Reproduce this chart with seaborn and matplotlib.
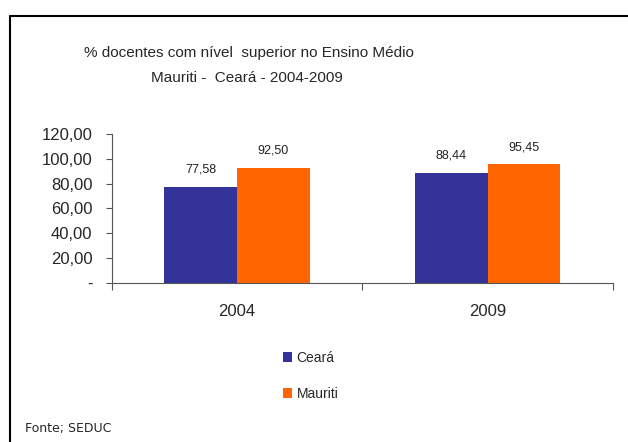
import pandas as pd
import seaborn as sns
import matplotlib.pyplot as plt
from matplotlib.lines import Line2D
from matplotlib.ticker import FuncFormatter, FixedLocator

# data
anos = ['2004', '2009']
ceara = [77.58, 88.44]
mauriti = [92.50, 95.45]
series = ['Ceará', 'Mauriti']
cores = ['#333399', '#FF6600']

sns.set_style('white')
plt.rcParams['font.family'] = ['Liberation Sans', 'DejaVu Sans']

df = pd.DataFrame({
    'Ano': anos * 2,
    'Serie': [series[0]] * len(anos) + [series[1]] * len(anos),
    'Valor': ceara + mauriti,
})

fig = plt.figure(figsize=(6.28, 4.42), dpi=100)
ax = fig.add_axes([0.178, 0.360, 0.798, 0.337])

sns.barplot(data=df, x='Ano', y='Valor', hue='Serie', palette=cores,
            width=0.58, saturation=1, linewidth=0, ax=ax)

for cont in ax.containers:
    ax.bar_label(cont, labels=[f'{b.get_height():.2f}'.replace('.', ',') for b in cont],
                 padding=8, fontsize=9, color='#222222')

ax.set_ylim(0, 120)
ax.set_xlim(-0.5, 1.5)
ax.set_yticks([0, 20, 40, 60, 80, 100, 120])
ax.yaxis.set_major_formatter(FuncFormatter(
    lambda v, p: '-' if v == 0 else f'{v:.2f}'.replace('.', ',')))
ax.tick_params(axis='y', labelsize=12, length=4, width=0.8, color='#555555', direction='out', left=True, pad=10)
ax.tick_params(axis='x', which='major', labelsize=12, length=0, pad=15)
ax.xaxis.set_minor_locator(FixedLocator([-0.5, 0.5, 1.5]))
ax.tick_params(axis='x', which='minor', length=5, width=0.8, color='#555555', bottom=True, direction='out')
ax.set_xlabel('')
ax.set_ylabel('')
for s in ['top', 'right']:
    ax.spines[s].set_visible(False)
for s in ['left', 'bottom']:
    ax.spines[s].set_color('#555555')
    ax.spines[s].set_linewidth(0.8)

ax.legend(loc='upper left', bbox_to_anchor=(0.33, -0.42), frameon=False,
          fontsize=10, handlelength=0.7, handleheight=0.7, handletextpad=0.3,
          labelspacing=1.6, borderaxespad=0)

fig.text(0.397, 0.880, '% docentes com nível  superior no Ensino Médio', ha='center', va='center', fontsize=11)
fig.text(0.393, 0.823, 'Mauriti -  Ceará - 2004-2009', ha='center', va='center', fontsize=11)
fig.text(0.040, 0.030, 'Fonte; SEDUC', ha='left', va='center', fontsize=9, family=['DejaVu Sans'])

# frame lines (left and top only visible)
fig.add_artist(Line2D([0.016, 0.016], [0.0, 0.964], color='black', lw=1.5, transform=fig.transFigure))
fig.add_artist(Line2D([0.016, 1.0], [0.964, 0.964], color='black', lw=1.5, transform=fig.transFigure))

fig.savefig('out.png', dpi=100)
